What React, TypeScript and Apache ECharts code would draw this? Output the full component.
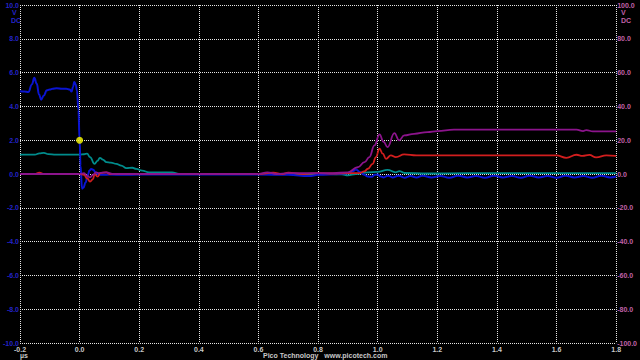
import React, { useEffect, useRef } from "react";
import * as echarts from "echarts";

// Channel A (blue, left axis, V)
const channelA: [number, number][] = [
  [-0.2, 4.9], [-0.185, 4.88], [-0.172, 4.85], [-0.16, 5.3], [-0.152, 5.69], [-0.144, 5.35],
  [-0.136, 4.7], [-0.129, 4.4], [-0.12, 4.65], [-0.11, 4.95], [-0.1, 5.0], [-0.09, 5.05],
  [-0.077, 5.07], [-0.06, 5.05], [-0.045, 5.05], [-0.033, 5.0], [-0.027, 4.88], [-0.022, 5.15],
  [-0.018, 5.45], [-0.013, 5.3], [-0.009, 4.95], [-0.004, 3.8], [0, 2.0], [0.003, 0.5],
  [0.008, -0.86], [0.013, -0.8], [0.02, -0.5], [0.027, -0.1], [0.033, 0.2], [0.039, 0.3],
  [0.046, 0.25], [0.053, 0.1], [0.06, 0.0], [0.067, -0.05], [0.08, -0.05], [0.1, -0.03],
  [0.15, -0.05], [0.2, -0.03], [0.3, -0.03], [0.4, -0.03], [0.5, -0.03], [0.6, -0.03],
  [0.7, -0.05], [0.77, -0.12], [0.8, -0.05], [0.87, 0.0], [0.9, 0.05], [0.915, 0.15],
  [0.927, 0.27], [0.94, 0.12], [0.955, -0.05], [0.967, -0.15], [0.98, -0.17], [0.99, -0.05],
  [1.0, -0.03], [1.01, -0.15], [1.02, -0.2], [1.035, -0.1], [1.05, -0.2], [1.07, -0.1],
  [1.09, -0.22], [1.11, -0.12], [1.13, -0.2], [1.15, -0.1], [1.18, -0.2], [1.21, -0.12],
  [1.24, -0.22], [1.27, -0.1], [1.3, -0.2], [1.33, -0.12], [1.36, -0.22], [1.39, -0.1],
  [1.42, -0.2], [1.45, -0.12], [1.48, -0.22], [1.51, -0.1], [1.54, -0.2], [1.57, -0.12],
  [1.6, -0.22], [1.63, -0.1], [1.66, -0.2], [1.69, -0.12], [1.72, -0.22], [1.75, -0.1],
  [1.78, -0.2], [1.8, -0.15],
];

// Channel B (teal, left axis, V)
const channelB: [number, number][] = [
  [-0.2, 1.15], [-0.15, 1.15], [-0.135, 1.22], [-0.12, 1.25], [-0.105, 1.18], [-0.08, 1.15],
  [-0.03, 1.15], [0, 1.15], [0.015, 1.17], [0.025, 1.2], [0.035, 1.0], [0.05, 0.6],
  [0.06, 0.78], [0.068, 0.96], [0.078, 0.85], [0.09, 0.7], [0.105, 0.67], [0.123, 0.6],
  [0.14, 0.5], [0.157, 0.35], [0.177, 0.37], [0.19, 0.3], [0.21, 0.2], [0.233, 0.1],
  [0.27, 0.1], [0.31, 0.1], [0.333, 0.0], [0.4, 0.0], [0.6, 0.0], [0.8, 0.0],
  [0.88, -0.02], [0.9, -0.08], [0.927, 0.0], [0.967, 0.1], [1.0, 0.12], [1.033, 0.25],
  [1.06, 0.1], [1.073, 0.17], [1.09, 0.06], [1.167, 0.03], [1.3, 0.05], [1.5, 0.05],
  [1.7, 0.05], [1.8, 0.05],
];

// Channel C (red, right axis, V)
const channelC: [number, number][] = [
  [-0.2, 0], [-0.15, 0], [-0.135, 0.8], [-0.12, 0], [0, 0], [0.015, -0.5], [0.025, -2.5],
  [0.035, -4.5], [0.045, -3], [0.05, 0], [0.06, -1.5], [0.07, 0.5], [0.09, 1], [0.1, 0],
  [0.2, 0], [0.4, 0], [0.6, 0], [0.65, 0.8], [0.68, 0], [0.7, 0.8], [0.75, 0], [0.8, 0.5],
  [0.85, 0.3], [0.9, 0.5], [0.939, 0.5], [0.955, 1.5], [0.967, 3.1], [0.983, 6], [0.994, 10],
  [1.006, 15], [1.017, 12], [1.028, 9], [1.044, 11], [1.061, 10], [1.089, 11.6], [1.13, 11],
  [1.6, 11], [1.633, 9.6], [1.667, 11.4], [1.687, 10.7], [1.71, 11.3], [1.733, 9.8],
  [1.767, 11], [1.8, 10.7],
];

// Channel D (purple, right axis, V)
const channelD: [number, number][] = [
  [-0.2, 0], [0, 0], [0.015, 0.5], [0.025, -1], [0.035, -2], [0.045, -0.5], [0.055, 1],
  [0.065, 0.5], [0.09, 1], [0.11, 0], [0.3, 0], [0.6, 0], [0.63, 1], [0.66, 0], [0.7, 0.5],
  [0.8, 0.5], [0.85, 0.5], [0.9, 1], [0.933, 4], [0.956, 7], [0.972, 10], [0.989, 16.9],
  [1.006, 23.4], [1.02, 19], [1.033, 15.9], [1.056, 24.2], [1.072, 19.9], [1.089, 22.8],
  [1.122, 23.8], [1.167, 24.8], [1.2, 25.4], [1.256, 26.2], [1.667, 26.2], [1.689, 25.4],
  [1.7, 26], [1.722, 25.2], [1.8, 25.2],
];

const triggerPoint: [number, number][] = [[0, 2.0]];

const fmt = (v: number) => (Math.abs(v) < 1e-9 ? "0.0" : v.toFixed(1));

export default function App() {
  const ref = useRef<HTMLDivElement>(null);
  useEffect(() => {
    const chart = echarts.init(ref.current!, null, { renderer: "svg" });
    const gridLine = { color: "#e6e6e6", type: [1, 1] as number[], width: 1 };
    const labelBase = { fontSize: 7, fontWeight: "bold" as const, fontFamily: "Liberation Sans, Arial, sans-serif" };
    const lineCommon = { type: "line", showSymbol: false, smooth: 0.45, smoothMonotone: "x" };
    chart.setOption({
      animation: false,
      backgroundColor: "#000000",
      grid: { left: 20, right: 20, top: 5, bottom: 17 },
      xAxis: {
        type: "value",
        min: -0.2,
        max: 1.8,
        interval: 0.2,
        axisLine: { show: false },
        axisTick: { show: false },
        splitLine: { show: true, lineStyle: gridLine },
        axisLabel: { ...labelBase, color: "#c8c8c8", margin: 3, showMinLabel: true, showMaxLabel: true, formatter: fmt },
      },
      yAxis: [
        {
          type: "value",
          position: "left",
          min: -10,
          max: 10,
          interval: 2,
          axisLine: { show: false },
          axisTick: { show: false },
          splitLine: { show: true, lineStyle: gridLine },
          axisLabel: { ...labelBase, color: "#2424c8", margin: 1, showMinLabel: true, showMaxLabel: true, formatter: fmt },
        },
        {
          type: "value",
          position: "right",
          min: -100,
          max: 100,
          interval: 20,
          axisLine: { show: false },
          axisTick: { show: false },
          splitLine: { show: false },
          axisLabel: { ...labelBase, color: "#c060a8", margin: 1, showMinLabel: true, showMaxLabel: true, formatter: fmt },
        },
      ],
      series: [
        { ...lineCommon, data: channelB, yAxisIndex: 0, lineStyle: { color: "#008c8c", width: 1.8 } },
        { ...lineCommon, data: channelA, yAxisIndex: 0, lineStyle: { color: "#0a14d2", width: 2 } },
        { ...lineCommon, data: channelC, yAxisIndex: 1, lineStyle: { color: "#d21e1e", width: 1.8 } },
        { ...lineCommon, data: channelD, yAxisIndex: 1, lineStyle: { color: "#8c148c", width: 1.8 } },
        { type: "scatter", data: triggerPoint, yAxisIndex: 0, symbolSize: 7, z: 10, itemStyle: { color: "#ffff00" } },
      ],
      graphic: [
        { type: "text", left: 12, top: 9, style: { ...labelBase, text: "V", fill: "#2424c8" } },
        { type: "text", left: 11, top: 17, style: { ...labelBase, text: "DC", fill: "#2424c8" } },
        { type: "text", left: 621, top: 9, style: { ...labelBase, text: "V", fill: "#c060a8" } },
        { type: "text", left: 621, top: 17, style: { ...labelBase, text: "DC", fill: "#c060a8" } },
        { type: "text", left: 20, top: 352, style: { ...labelBase, text: "µs", fill: "#c8c8c8" } },
        { type: "text", left: 263, top: 352, style: { ...labelBase, text: "Pico Technology   www.picotech.com", fill: "#c8c8c8" } },
      ],
    });
    return () => chart.dispose();
  }, []);
  return (
    <div
      ref={ref}
      style={{ position: "fixed", left: 0, top: 0, width: 640, height: 360, background: "#000" }}
    />
  );
}
